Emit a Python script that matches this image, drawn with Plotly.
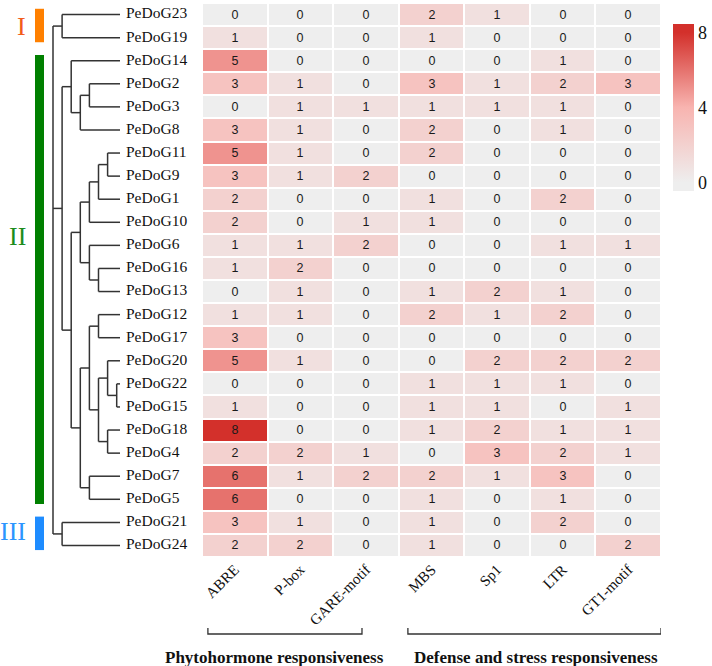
import plotly.graph_objects as go

# ---------------- data ----------------
GENES = ["PeDoG23", "PeDoG19", "PeDoG14", "PeDoG2", "PeDoG3", "PeDoG8", "PeDoG11", "PeDoG9",
         "PeDoG1", "PeDoG10", "PeDoG6", "PeDoG16", "PeDoG13", "PeDoG12", "PeDoG17", "PeDoG20",
         "PeDoG22", "PeDoG15", "PeDoG18", "PeDoG4", "PeDoG7", "PeDoG5", "PeDoG21", "PeDoG24"]
MOTIFS = ["ABRE", "P-box", "GARE-motif", "MBS", "Sp1", "LTR", "GT1-motif"]

ABRE = [0, 1, 5, 3, 0, 3, 5, 3, 2, 2, 1, 1, 0, 1, 3, 5, 0, 1, 8, 2, 6, 6, 3, 2]
PBOX = [0, 0, 0, 1, 1, 1, 1, 1, 0, 0, 1, 2, 1, 1, 0, 1, 0, 0, 0, 2, 1, 0, 1, 2]
GARE = [0, 0, 0, 0, 1, 0, 0, 2, 0, 1, 2, 0, 0, 0, 0, 0, 0, 0, 0, 1, 2, 0, 0, 0]
MBS = [2, 1, 0, 3, 1, 2, 2, 0, 1, 1, 0, 0, 1, 2, 0, 0, 1, 1, 1, 0, 2, 1, 1, 1]
SP1 = [1, 0, 0, 1, 1, 0, 0, 0, 0, 0, 0, 0, 2, 1, 0, 2, 1, 1, 2, 3, 1, 0, 0, 0]
LTR = [0, 0, 1, 2, 1, 1, 0, 0, 2, 0, 1, 0, 1, 2, 0, 2, 1, 0, 1, 2, 3, 1, 2, 0]
GT1 = [0, 0, 0, 3, 0, 0, 0, 0, 0, 0, 1, 0, 0, 0, 0, 2, 0, 1, 1, 1, 0, 0, 0, 2]
SERIES = [ABRE, PBOX, GARE, MBS, SP1, LTR, GT1]

# dendrogram topology (nested pairs of leaves)
TREE = (
    ("PeDoG23", "PeDoG19"),
    (
        ("PeDoG14", (("PeDoG2", "PeDoG3"), "PeDoG8")),
        (
            (((("PeDoG11", "PeDoG9"), "PeDoG1"), "PeDoG10"), ("PeDoG6", ("PeDoG16", "PeDoG13"))),
            ((("PeDoG12", "PeDoG17"), (("PeDoG20", ("PeDoG22", "PeDoG15")), ("PeDoG18", "PeDoG4"))),
             ("PeDoG7", "PeDoG5")),
        ),
    ),
    ("PeDoG21", "PeDoG24"),
)

GROUP_NAMES = ["I", "II", "III"]
GROUP_FIRST = ["PeDoG23", "PeDoG14", "PeDoG21"]
GROUP_LAST = ["PeDoG19", "PeDoG5", "PeDoG24"]
CATEGORY_NAMES = ["Phytohormone responsiveness", "Defense and stress responsiveness"]
CBAR_TICKS = [0, 4, 8]

# ---------------- styling / layout constants ----------------
W, H = 712, 666
SERIF = "Liberation Serif, Times New Roman, serif"
SANS = "Liberation Sans, Arial, sans-serif"
ROOT_X, STEP, LEAF_X, LABEL_X = 53, 9.1, 120, 126
ZMIN, ZMAX = -0.45, 8.45
C0, C4, C8 = "#EEEEEE", "#F8B4B0", "#D3302B"
GROUP_BAR = ["#FF8000", "#008000", "#1E8CFF"]
GROUP_TXT = ["#F25C19", "#1C8C1C", "#2B95FF"]
GROUP_LABEL_SHIFT = [0.0, -1.9, -0.1]
BRACKETS = [(-0.41, 1.94), (2.64, 6.5)]
CAT_LABEL_PX = [274.5, 536]

z = [[SERIES[c][r] for c in range(len(MOTIFS))] for r in range(len(GENES))]
row_of = {g: i for i, g in enumerate(GENES)}


def t(v):
    return (v - ZMIN) / (ZMAX - ZMIN)


colorscale = [[0, C0], [t(0), C0], [t(4), C4], [t(8), C8], [1, C8]]

# ---------------- dendrogram geometry ----------------
lx, ly = [], []


def walk(node, depth):
    """return (x, y) of node, appending line segments"""
    if isinstance(node, str):
        return LEAF_X, row_of[node]
    nx = ROOT_X + depth * STEP
    kids = [walk(ch, depth + 1) for ch in node]
    ys = [k[1] for k in kids]
    for kx, ky in kids:
        lx.extend([nx, kx, None])
        ly.extend([ky, ky, None])
    lx.extend([nx, nx, None])
    ly.extend([min(ys), max(ys), None])
    return nx, (ys[0] + ys[-1]) / 2


walk(TREE, 0)

fig = go.Figure()

fig.add_trace(go.Heatmap(
    x=list(range(len(MOTIFS))), y=list(range(len(GENES))), z=z,
    texttemplate="%{z}", textfont=dict(family=SANS, size=12.5, color="#1a1a1a"),
    colorscale=colorscale, zmin=ZMIN, zmax=ZMAX, xgap=2, ygap=2,
    hoverinfo="skip",
    colorbar=dict(x=673 / W, xanchor="left", xpad=0, ypad=0,
                  y=1 - 24 / H, yanchor="top", len=167 / H, lenmode="fraction",
                  thickness=21, thicknessmode="pixels", outlinewidth=0,
                  tickvals=CBAR_TICKS, ticks="",
                  tickfont=dict(family=SERIF, size=18, color="#111111")),
))

fig.add_trace(go.Scatter(
    x=lx, y=ly, xaxis="x2", yaxis="y", mode="lines",
    line=dict(color="#333333", width=1.5), hoverinfo="skip", showlegend=False,
))

fig.add_trace(go.Scatter(
    x=[LABEL_X] * len(GENES), y=list(range(len(GENES))), xaxis="x2", yaxis="y",
    mode="text", text=GENES, textposition="middle right",
    textfont=dict(family=SERIF, size=15.5, color="#111111"),
    hoverinfo="skip", showlegend=False, cliponaxis=False,
))

shapes = []
annotations = []
for i, name in enumerate(GROUP_NAMES):
    r0, r1 = row_of[GROUP_FIRST[i]], row_of[GROUP_LAST[i]]
    shapes.append(dict(type="rect", xref="x2", yref="y", x0=35, x1=44,
                       y0=r0 - 0.25, y1=r1 + 0.2, fillcolor=GROUP_BAR[i], line=dict(width=0)))
    annotations.append(dict(xref="x2", yref="y", x=28, y=(r0 + r1) / 2 + GROUP_LABEL_SHIFT[i],
                            text=name, showarrow=False, xanchor="right", yanchor="middle",
                            font=dict(family=SERIF, size=26, color=GROUP_TXT[i])))

yb, yt = 1 - 634 / H, 1 - 628 / H
for (a, b) in BRACKETS:
    shapes.append(dict(type="path", xref="x", yref="paper",
                       path=f"M {a},{yt} L {a},{yb} L {b},{yb} L {b},{yt}",
                       line=dict(color="#333333", width=1.3)))
for i, name in enumerate(CATEGORY_NAMES):
    annotations.append(dict(xref="paper", yref="paper", x=CAT_LABEL_PX[i] / W, y=1 - 657 / H,
                            text=f"<b>{name}</b>", showarrow=False, xanchor="center",
                            yanchor="middle", font=dict(family=SERIF, size=17, color="#111111")))

fig.update_layout(
    width=W, height=H, margin=dict(l=0, r=0, t=0, b=0),
    paper_bgcolor="white", plot_bgcolor="white", showlegend=False,
    xaxis=dict(domain=[202 / W, 661 / W], range=[-0.5, 6.5], tickvals=list(range(len(MOTIFS))),
               ticktext=MOTIFS, tickangle=-45, ticks="", showgrid=False, zeroline=False,
               showline=False, tickfont=dict(family=SERIF, size=15, color="#111111"), anchor="y"),
    yaxis=dict(domain=[1 - 557 / H, 1 - 3 / H], range=[len(GENES) - 0.5, -0.5],
               showticklabels=False, showgrid=False, zeroline=False, ticks=""),
    xaxis2=dict(domain=[0, 202 / W], range=[0, 202], visible=False, anchor="y"),
    shapes=shapes, annotations=annotations,
)

fig.write_html("out.html", config={"displayModeBar": False},
               post_script="document.body.style.margin='0px';document.body.style.padding='0px';")
